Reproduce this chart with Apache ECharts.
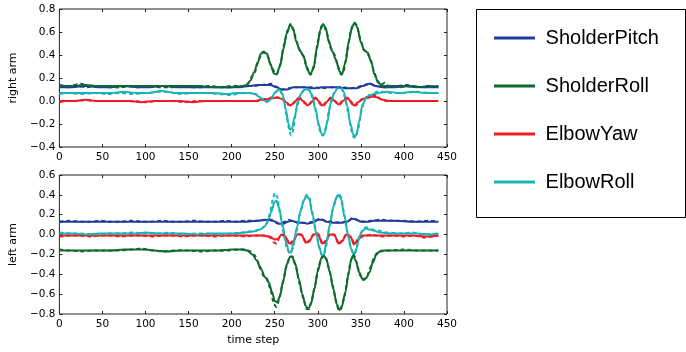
<!DOCTYPE html>
<html>
<head>
<meta charset="utf-8">
<script src="https://cdn.jsdelivr.net/npm/echarts@6/dist/echarts.min.js"></script>
<style>
html,body{margin:0;padding:0;background:#fff;}
#c{width:686px;height:352px;}
</style>
</head>
<body>
<div id="c"></div>
<script>
// ---- Data (time step, value) ----
const jointNames = ['SholderPitch', 'SholderRoll', 'ElbowYaw', 'ElbowRoll'];
const xTicks = [0, 50, 100, 150, 200, 250, 300, 350, 400, 450];
const rightTicks = [-0.4, -0.2, 0.0, 0.2, 0.4, 0.6, 0.8];
const leftTicks = [-0.8, -0.6, -0.4, -0.2, 0.0, 0.2, 0.4, 0.6];

// right arm, solid (smooth) curves
const rightPitch = [[0,0.12],[15,0.12],[30,0.13],[45,0.12],[60,0.12],[75,0.13],[90,0.12],[105,0.12],[120,0.13],[135,0.12],[150,0.12],[165,0.12],[180,0.12],[195,0.12],[210,0.12],[220,0.13],[230,0.14],[245,0.14],[252,0.12],[258,0.10],[264,0.10],[272,0.12],[285,0.12],[295,0.11],[305,0.12],[320,0.12],[335,0.11],[345,0.11],[352,0.13],[360,0.15],[367,0.13],[375,0.12],[390,0.12],[405,0.13],[420,0.12],[440,0.12]];
const rightRoll = [[0,0.13],[15,0.13],[30,0.14],[45,0.13],[60,0.13],[80,0.13],[100,0.13],[120,0.13],[140,0.13],[160,0.13],[180,0.12],[200,0.12],[212,0.13],[218,0.14],[222,0.18],[226,0.25],[230,0.33],[234,0.41],[237,0.43],[241,0.41],[245,0.32],[249,0.24],[252,0.23],[256,0.30],[260,0.45],[264,0.59],[268,0.66],[271,0.64],[275,0.52],[279,0.44],[283,0.40],[287,0.30],[291,0.23],[295,0.28],[299,0.46],[303,0.62],[306,0.67],[309,0.64],[313,0.51],[317,0.43],[321,0.36],[325,0.26],[328,0.23],[332,0.33],[336,0.52],[340,0.65],[343,0.68],[346,0.64],[350,0.51],[354,0.44],[358,0.42],[362,0.34],[366,0.23],[370,0.16],[375,0.13],[385,0.13],[400,0.13],[415,0.12],[430,0.13],[440,0.12]];
const rightYaw = [[0,0.0],[15,0.0],[30,0.01],[45,0.0],[60,0.0],[80,0.0],[95,-0.01],[110,0.0],[125,0.0],[140,0.0],[155,-0.01],[170,0.0],[185,0.0],[200,0.0],[215,0.0],[225,0.0],[235,0.01],[245,0.02],[252,0.03],[258,0.02],[263,-0.01],[268,-0.04],[273,-0.01],[278,0.03],[283,0.0],[288,-0.04],[293,-0.01],[297,0.03],[301,0.0],[305,-0.04],[310,-0.01],[315,0.03],[320,0.0],[324,-0.03],[329,0.0],[334,0.03],[338,0.0],[342,-0.04],[347,-0.01],[352,0.02],[358,0.03],[364,0.04],[370,0.03],[375,0.01],[385,0.0],[400,0.0],[420,0.0],[440,0.0]];
const rightElbowRoll = [[0,0.07],[15,0.07],[30,0.07],[45,0.07],[60,0.07],[75,0.08],[90,0.07],[105,0.07],[112,0.08],[118,0.09],[125,0.08],[135,0.07],[150,0.07],[165,0.07],[180,0.07],[195,0.06],[205,0.07],[215,0.07],[222,0.07],[227,0.06],[231,0.04],[235,0.02],[239,0.0],[243,0.0],[247,0.04],[251,0.08],[255,0.10],[259,0.06],[263,-0.08],[266,-0.2],[268,-0.25],[270,-0.24],[273,-0.14],[277,0.0],[281,0.07],[285,0.10],[289,0.10],[293,0.06],[297,-0.06],[301,-0.2],[304,-0.28],[306,-0.30],[308,-0.28],[311,-0.18],[315,-0.02],[319,0.07],[323,0.11],[326,0.12],[330,0.08],[334,-0.04],[338,-0.2],[341,-0.29],[343,-0.31],[345,-0.29],[348,-0.18],[352,-0.03],[356,0.03],[360,0.05],[365,0.06],[370,0.07],[380,0.08],[395,0.07],[410,0.08],[425,0.07],[440,0.07]];

// right arm, dashed (measured) curves
const rightPitchObs = [[0,0.13],[10,0.12],[20,0.13],[32,0.12],[44,0.13],[56,0.12],[68,0.12],[80,0.13],[92,0.12],[104,0.13],[116,0.12],[128,0.12],[140,0.13],[152,0.12],[164,0.12],[176,0.13],[188,0.12],[200,0.12],[212,0.13],[224,0.13],[236,0.14],[246,0.15],[253,0.12],[259,0.10],[266,0.11],[274,0.12],[284,0.12],[294,0.12],[304,0.11],[316,0.12],[328,0.12],[338,0.11],[346,0.12],[354,0.14],[361,0.15],[368,0.13],[378,0.12],[392,0.13],[404,0.14],[416,0.12],[428,0.13],[440,0.12]];
const rightRollObs = [[0,0.14],[10,0.13],[25,0.15],[35,0.13],[50,0.13],[70,0.12],[90,0.13],[110,0.13],[130,0.12],[150,0.13],[170,0.13],[185,0.12],[200,0.13],[215,0.13],[220,0.16],[223,0.21],[227,0.25],[231,0.35],[235,0.42],[238,0.42],[242,0.39],[246,0.30],[250,0.25],[253,0.24],[257,0.33],[261,0.50],[265,0.62],[268,0.67],[272,0.61],[276,0.50],[280,0.43],[284,0.38],[288,0.27],[292,0.23],[296,0.32],[300,0.52],[304,0.65],[307,0.66],[311,0.58],[315,0.46],[319,0.41],[323,0.31],[327,0.23],[330,0.26],[334,0.42],[338,0.60],[342,0.68],[345,0.66],[349,0.55],[353,0.45],[357,0.42],[361,0.37],[365,0.26],[369,0.18],[373,0.14],[378,0.16],[382,0.13],[395,0.12],[410,0.13],[425,0.12],[440,0.13]];
const rightYawObs = [[0,-0.01],[10,0.0],[20,0.0],[30,0.01],[40,0.0],[55,0.0],[70,0.0],[85,0.0],[100,-0.01],[115,0.0],[130,0.0],[145,-0.01],[160,0.0],[175,0.0],[190,0.0],[205,0.0],[220,0.0],[230,0.0],[240,0.02],[248,0.03],[255,0.03],[260,0.01],[265,-0.03],[270,-0.04],[275,0.01],[280,0.02],[285,-0.02],[290,-0.03],[295,0.02],[299,0.02],[303,-0.03],[307,-0.04],[312,0.01],[317,0.02],[322,-0.02],[326,-0.03],[331,0.02],[336,0.02],[340,-0.03],[344,-0.04],[349,0.0],[355,0.03],[361,0.03],[366,0.05],[372,0.02],[378,0.0],[390,0.0],[410,0.0],[430,0.0],[440,0.0]];
const rightElbowRollObs = [[0,0.06],[10,0.07],[25,0.06],[40,0.07],[55,0.06],[70,0.07],[85,0.06],[100,0.07],[115,0.08],[125,0.08],[140,0.06],[155,0.07],[170,0.07],[185,0.06],[200,0.05],[210,0.07],[220,0.07],[228,0.06],[233,0.03],[237,0.01],[241,-0.01],[245,0.01],[249,0.05],[253,0.09],[257,0.09],[261,0.0],[264,-0.14],[267,-0.26],[269,-0.30],[271,-0.27],[275,-0.08],[279,0.04],[283,0.09],[287,0.11],[291,0.09],[295,0.0],[299,-0.13],[302,-0.25],[305,-0.30],[307,-0.29],[310,-0.22],[313,-0.08],[317,0.04],[321,0.10],[325,0.12],[328,0.11],[332,0.02],[336,-0.13],[339,-0.26],[342,-0.32],[344,-0.31],[347,-0.24],[350,-0.1],[354,0.0],[358,0.05],[363,0.05],[368,0.08],[375,0.08],[385,0.07],[400,0.07],[415,0.08],[430,0.07],[440,0.07]];

// left arm, solid (smooth) curves
const leftPitch = [[0,0.13],[20,0.13],[40,0.13],[60,0.13],[80,0.13],[100,0.13],[120,0.13],[140,0.13],[160,0.13],[180,0.13],[200,0.13],[215,0.13],[230,0.14],[242,0.15],[248,0.14],[254,0.11],[260,0.11],[265,0.13],[270,0.14],[276,0.12],[282,0.12],[288,0.11],[293,0.12],[300,0.15],[305,0.15],[310,0.13],[316,0.12],[322,0.12],[328,0.12],[334,0.13],[340,0.16],[345,0.15],[350,0.13],[358,0.13],[365,0.14],[375,0.14],[390,0.14],[410,0.13],[425,0.13],[440,0.13]];
const leftRoll = [[0,-0.16],[15,-0.16],[30,-0.16],[45,-0.16],[60,-0.16],[75,-0.15],[90,-0.15],[100,-0.15],[110,-0.16],[125,-0.17],[140,-0.16],[155,-0.16],[170,-0.16],[185,-0.16],[200,-0.15],[212,-0.15],[218,-0.16],[224,-0.20],[229,-0.26],[234,-0.35],[239,-0.43],[243,-0.48],[247,-0.58],[250,-0.67],[253,-0.68],[256,-0.62],[260,-0.46],[264,-0.30],[268,-0.22],[270,-0.22],[274,-0.30],[278,-0.45],[282,-0.60],[286,-0.72],[289,-0.75],[292,-0.70],[296,-0.55],[300,-0.37],[304,-0.24],[307,-0.21],[310,-0.25],[314,-0.38],[318,-0.55],[322,-0.70],[325,-0.76],[328,-0.72],[332,-0.58],[336,-0.38],[339,-0.24],[341,-0.21],[344,-0.26],[348,-0.38],[352,-0.45],[356,-0.44],[360,-0.38],[364,-0.28],[368,-0.20],[372,-0.17],[378,-0.16],[390,-0.16],[405,-0.16],[420,-0.16],[440,-0.16]];
const leftYaw = [[0,-0.01],[20,-0.01],[40,-0.01],[60,-0.01],[80,-0.01],[100,-0.01],[120,-0.01],[140,-0.01],[160,-0.01],[180,-0.01],[200,-0.01],[220,-0.01],[235,-0.01],[244,-0.02],[250,-0.05],[254,-0.04],[258,0.0],[262,-0.02],[267,-0.09],[271,-0.07],[276,0.0],[281,0.0],[286,-0.08],[290,-0.07],[295,0.0],[300,0.01],[305,-0.09],[309,-0.07],[314,0.0],[319,0.0],[324,-0.09],[328,-0.07],[333,0.0],[338,-0.02],[342,-0.1],[346,-0.06],[351,-0.01],[360,-0.01],[375,-0.01],[390,-0.01],[410,-0.01],[425,-0.02],[440,-0.01]];
const leftElbowRoll = [[0,0.01],[15,0.01],[30,0.0],[45,0.01],[60,0.01],[75,0.01],[90,0.01],[100,0.02],[115,0.01],[130,0.01],[145,0.01],[160,0.0],[175,0.01],[190,0.01],[205,0.01],[215,0.02],[225,0.03],[233,0.05],[238,0.08],[242,0.13],[246,0.23],[250,0.33],[252,0.34],[255,0.27],[259,0.10],[263,-0.08],[267,-0.18],[269,-0.18],[272,-0.08],[276,0.08],[280,0.24],[284,0.35],[287,0.39],[290,0.36],[294,0.2],[298,0.02],[302,-0.14],[305,-0.21],[307,-0.2],[310,-0.08],[314,0.1],[318,0.28],[322,0.38],[324,0.40],[327,0.36],[331,0.18],[335,0.0],[339,-0.15],[342,-0.2],[345,-0.14],[348,-0.02],[352,0.04],[356,0.06],[360,0.05],[365,0.04],[372,0.02],[385,0.01],[400,0.01],[415,0.01],[430,0.0],[440,0.01]];

// left arm, dashed (measured) curves
const leftPitchObs = [[0,0.13],[12,0.14],[24,0.13],[36,0.13],[48,0.14],[60,0.13],[72,0.13],[84,0.14],[96,0.13],[108,0.13],[120,0.14],[132,0.13],[144,0.13],[156,0.14],[168,0.13],[180,0.13],[192,0.14],[204,0.13],[216,0.14],[228,0.14],[240,0.15],[247,0.15],[253,0.12],[259,0.12],[266,0.15],[272,0.13],[280,0.12],[288,0.12],[296,0.13],[302,0.16],[308,0.14],[316,0.13],[326,0.12],[334,0.13],[341,0.17],[347,0.14],[354,0.13],[362,0.14],[372,0.15],[386,0.14],[400,0.14],[414,0.13],[428,0.14],[440,0.13]];
const leftRollObs = [[0,-0.15],[12,-0.16],[25,-0.17],[40,-0.16],[55,-0.16],[70,-0.16],[85,-0.15],[95,-0.14],[108,-0.16],[120,-0.17],[135,-0.16],[150,-0.16],[165,-0.17],[180,-0.16],[195,-0.16],[208,-0.15],[216,-0.15],[222,-0.17],[227,-0.21],[232,-0.30],[237,-0.42],[241,-0.44],[245,-0.55],[249,-0.70],[252,-0.73],[255,-0.66],[259,-0.50],[263,-0.34],[267,-0.23],[271,-0.22],[275,-0.34],[279,-0.50],[283,-0.64],[287,-0.75],[290,-0.75],[293,-0.66],[297,-0.50],[301,-0.32],[305,-0.22],[309,-0.22],[313,-0.34],[317,-0.50],[321,-0.66],[324,-0.76],[327,-0.75],[331,-0.62],[335,-0.42],[338,-0.27],[342,-0.20],[345,-0.28],[349,-0.41],[353,-0.46],[357,-0.43],[361,-0.33],[365,-0.24],[369,-0.18],[375,-0.16],[385,-0.16],[400,-0.15],[415,-0.16],[430,-0.16],[440,-0.16]];
const leftYawObs = [[0,-0.02],[12,-0.01],[24,-0.01],[36,-0.02],[48,-0.01],[60,-0.01],[72,-0.02],[84,-0.01],[96,-0.01],[108,-0.02],[120,-0.01],[132,-0.01],[144,-0.02],[156,-0.01],[168,-0.01],[180,-0.02],[192,-0.01],[204,-0.01],[216,-0.02],[228,-0.01],[238,-0.01],[245,-0.03],[249,-0.08],[252,-0.09],[256,-0.02],[260,0.0],[264,-0.05],[268,-0.1],[272,-0.05],[277,0.01],[282,-0.01],[287,-0.09],[291,-0.05],[296,0.01],[301,0.0],[306,-0.1],[310,-0.05],[315,0.01],[320,-0.01],[325,-0.1],[329,-0.05],[334,0.01],[339,-0.03],[343,-0.1],[347,-0.04],[352,-0.02],[362,0.0],[374,-0.02],[388,-0.01],[400,-0.02],[412,-0.01],[424,-0.03],[440,-0.01]];
const leftElbowRollObs = [[0,0.02],[12,0.01],[25,0.01],[40,0.0],[55,0.01],[70,0.01],[85,0.02],[100,0.01],[112,0.01],[128,0.02],[142,0.0],[158,0.01],[172,0.01],[188,0.0],[200,0.01],[212,0.02],[220,0.03],[228,0.04],[235,0.06],[240,0.10],[244,0.20],[248,0.36],[250,0.42],[253,0.38],[256,0.22],[260,0.02],[264,-0.14],[268,-0.19],[271,-0.14],[275,0.02],[279,0.2],[283,0.33],[287,0.40],[290,0.38],[293,0.25],[297,0.07],[301,-0.1],[304,-0.2],[307,-0.21],[310,-0.11],[313,0.05],[317,0.24],[321,0.36],[324,0.41],[327,0.38],[330,0.24],[334,0.04],[338,-0.12],[341,-0.2],[344,-0.18],[347,-0.06],[351,0.03],[355,0.07],[358,0.07],[364,0.05],[370,0.04],[380,0.02],[395,0.01],[410,0.02],[425,0.0],[440,0.01]];

// ---- Chart ----
const colors = ['#1f3d99', '#0f6b2d', '#ee1c25', '#19b4b6'];
const FONT = 'DejaVu Sans';
const fmtY = v => { const r = Math.round(v * 10) / 10; return (r < 0 ? '\u2212' : '') + Math.abs(r).toFixed(1); };

const grids = [
  { left: 54, top: 9, width: 393, height: 138 },
  { left: 54, top: 175, width: 393, height: 139 }
].map(g => Object.assign(g, { show: true, borderColor: '#222', borderWidth: 1, backgroundColor: 'transparent' }));

function xAx(gi, pos, labels, name) {
  return {
    type: 'value', gridIndex: gi, position: pos, min: xTicks[0], max: xTicks[xTicks.length - 1], interval: 50,
    axisLine: { show: false, onZero: false }, splitLine: { show: false },
    axisTick: { show: true, inside: true, length: 3, lineStyle: { color: '#222' } },
    axisLabel: { show: labels, color: '#000', fontFamily: FONT, fontSize: 10.5, margin: 5 },
    name: name || '', nameLocation: 'middle', nameGap: 21,
    nameTextStyle: { color: '#000', fontFamily: FONT, fontSize: 11 }
  };
}
function yAx(gi, pos, min, max, labels, name) {
  return {
    type: 'value', gridIndex: gi, position: pos, min: min, max: max, interval: 0.2,
    axisLine: { show: false, onZero: false }, splitLine: { show: false },
    axisTick: { show: true, inside: true, length: 3, lineStyle: { color: '#222' } },
    axisLabel: { show: labels, color: '#000', fontFamily: FONT, fontSize: 10.5, margin: 4, formatter: fmtY },
    name: name || '', nameLocation: 'middle', nameGap: 36, nameRotate: 90,
    nameTextStyle: { color: '#000', fontFamily: FONT, fontSize: 11 }
  };
}

const xAxes = [xAx(0, 'bottom', true), xAx(0, 'top', false), xAx(1, 'bottom', true, 'time step'), xAx(1, 'top', false)];
const yAxes = [
  yAx(0, 'left', rightTicks[0], rightTicks[rightTicks.length - 1], true, 'right arm'),
  yAx(0, 'right', rightTicks[0], rightTicks[rightTicks.length - 1], false),
  yAx(1, 'left', leftTicks[0], leftTicks[leftTicks.length - 1], true, 'left arm'),
  yAx(1, 'right', leftTicks[0], leftTicks[leftTicks.length - 1], false)
];

const solidR = [rightPitch, rightRoll, rightYaw, rightElbowRoll];
const obsR = [rightPitchObs, rightRollObs, rightYawObs, rightElbowRollObs];
const solidL = [leftPitch, leftRoll, leftYaw, leftElbowRoll];
const obsL = [leftPitchObs, leftRollObs, leftYawObs, leftElbowRollObs];

const series = [];
function addLine(name, data, color, xi, yi, dashed) {
  series.push({
    name: name, type: 'line', data: data, xAxisIndex: xi, yAxisIndex: yi,
    showSymbol: false, symbol: 'none', silent: true, animation: false,
    smooth: dashed ? 0.15 : 0.35, smoothMonotone: 'x',
    lineStyle: { color: color, width: 2, type: dashed ? [4, 3] : 'solid' },
    itemStyle: { color: color }, z: dashed ? 3 : 2
  });
}
jointNames.forEach((n, i) => addLine(n, solidR[i], colors[i], 0, 0, false));
jointNames.forEach((n, i) => addLine(n, solidL[i], colors[i], 2, 2, false));
jointNames.forEach((n, i) => addLine(n, obsR[i], colors[i], 0, 0, true));
jointNames.forEach((n, i) => addLine(n, obsL[i], colors[i], 2, 2, true));

const chart = echarts.init(document.getElementById('c'), null, { renderer: 'canvas' });
chart.setOption({
  animation: false,
  backgroundColor: '#fff',
  textStyle: { fontFamily: FONT },
  grid: grids,
  xAxis: xAxes,
  yAxis: yAxes,
  legend: {
    data: jointNames, orient: 'vertical', left: 494, top: 28, padding: 0,
    icon: 'rect', itemWidth: 41, itemHeight: 3, itemGap: 28,
    formatter: n => ' ' + n,
    textStyle: { fontFamily: 'Liberation Sans', fontSize: 20, color: '#000', lineHeight: 20 },
    selectedMode: false
  },
  graphic: [{
    type: 'rect', left: 474, top: 7, shape: { width: 209, height: 208 },
    style: { fill: 'none', stroke: '#000', lineWidth: 1 }, silent: true
  }],
  series: series
});
</script>
</body>
</html>
